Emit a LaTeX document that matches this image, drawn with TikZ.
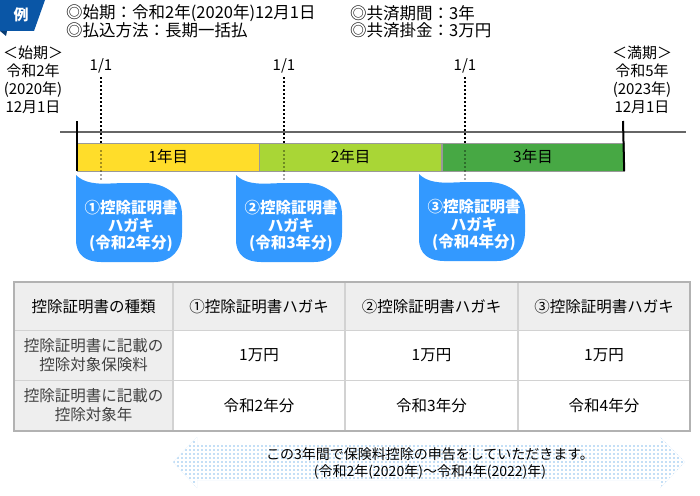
\documentclass[tikz,border=0pt]{standalone}
\usepackage{fontspec}
\setmainfont{Noto Sans CJK JP}
\usepackage{xcolor}
\usepackage{tikz}
\usetikzlibrary{
  positioning,
  calc
}
\definecolor{badgeblue}{HTML}{0A56A6}
\definecolor{dropblue}{HTML}{3399FF}
\definecolor{yrone}{HTML}{FFDD2A}
\definecolor{yrtwo}{HTML}{A9D636}
\definecolor{yrthree}{HTML}{47A844}
\definecolor{tblline}{HTML}{D2D2D2}
\definecolor{tblhead}{HTML}{EEEEEE}
\definecolor{dotblue}{HTML}{C4DFF6}
\newcommand{\fs}[2]{\fontsize{#1}{#2}\selectfont}

\begin{document}
\begin{tikzpicture}[
  x=1pt, y=-1pt,
  hdr/.style={font=\fs{16.5}{17}, inner sep=0pt, anchor=west},
  lbl/.style={font=\fs{15}{18}, inner sep=0pt, align=center},
  bar/.style={draw=gray!80, minimum width=182pt, minimum height=28pt, anchor=west,
    inner sep=0pt, font=\fs{15.5}{18}},
  jan/.style={line width=1.6pt, dash pattern=on 2pt off 2pt},
  droptxt/.style={font=\fs{15.5}{17.5}\bfseries, text=white, align=center, inner sep=0pt},
  cell/.style={draw=tblline, line width=1pt, minimum height=50pt, anchor=north west,
    inner sep=0pt, align=center, font=\fs{15.5}{19}},
  drop/.pic={
    \fill[dropblue] (0,0) -- (0,65) .. controls (0,80) and (10,87) .. (25,87)
      -- (78,87) .. controls (96,87) and (106,74) .. (106,58)
      -- (106,40) .. controls (106,20) and (90,8) .. (68,8)
      -- (50,8) .. controls (32,8) and (12,12) .. (0,0) -- cycle;
  },
]
  \useasboundingbox (0,0) rectangle (700,495);

  % Badge
  \fill[badgeblue] (0,0) -- (45,0) -- (34,31) -- (0,31) -- cycle;
  \fill[badgeblue!70!black] (0,31) -- (7,31) -- (6,36) -- cycle;
  \node[font=\fs{15}{15}\bfseries, text=white, inner sep=0pt] (ex) at (21,15) {例};

  % Conditions
  \node[hdr] (start) at (66,13) {◎始期：令和2年(2020年)12月1日};
  \node[hdr] (pay) at (66,30) {◎払込方法：長期一括払};
  \node[hdr] (term) at (350,13) {◎共済期間：3年};
  \node[hdr] (prem) at (350,30) {◎共済掛金：3万円};

  % Start and end dates
  \node[lbl] (begin) at (33,80) {＜始期＞\\令和2年\\(2020年)\\12月1日};
  \node[lbl] (finish) at (642,80) {＜満期＞\\令和5年\\(2023年)\\12月1日};

  % Time axis
  \coordinate (axl) at (60,132);
  \coordinate (axr) at (686,132);
  \draw[gray!80!black, line width=1.2pt] (axl) -- (axr);

  \node[lbl] (jan1) at (101,66) {1/1};
  \node[lbl] (jan2) at (284,66) {1/1};
  \node[lbl] (jan3) at (465,66) {1/1};
  \foreach \j in {jan1,jan2,jan3}
    \draw[jan] ([yshift=-4pt]\j.south) -- ($(\j.south)+(0,77)$);

  % Years
  \node[bar, fill=yrone] (y1) at (77,157) {1年目};
  \node[bar, fill=yrtwo, right=0pt of y1] (y2) {2年目};
  \node[bar, fill=yrthree, right=0pt of y2] (y3) {3年目};
  \foreach \j in {jan1,jan2,jan3}
    \draw[jan, draw opacity=.35] ($(\j.south)+(0,77)$) -- ($(\j.south)+(0,106)$);
  \draw[line width=2pt] (77,121) -- (y1.south west);
  \draw[line width=2pt] (623,121) -- (y3.south east);

  % Certificate cards
  \pic at (76,175) {drop};
  \pic at (236,175) {drop};
  \pic at (419,174) {drop};
  \node[droptxt] (c1) at (131,226) {①控除証明書\\ハガキ\\(令和2年分)};
  \node[droptxt] (c2) at (291,226) {②控除証明書\\ハガキ\\(令和3年分)};
  \node[droptxt] (c3) at (474,225) {③控除証明書\\ハガキ\\(令和4年分)};

  % Table
  \node[cell, fill=tblhead, minimum width=158pt, minimum height=48pt] (kind) at (14,282) {控除証明書の種類};
  \node[cell, fill=tblhead, minimum width=171pt, minimum height=48pt, right=0pt of kind] (k1) {①控除証明書ハガキ};
  \node[cell, fill=tblhead, minimum width=172pt, minimum height=48pt, right=0pt of k1] (k2) {②控除証明書ハガキ};
  \node[cell, fill=tblhead, minimum width=171pt, minimum height=48pt, right=0pt of k2] (k3) {③控除証明書ハガキ};

  \node[cell, fill=tblhead, text=black!75, minimum width=158pt] (amt) at (14,330) {控除証明書に記載の\\控除対象保険料};
  \node[cell, minimum width=171pt, right=0pt of amt] (a1) {1万円};
  \node[cell, minimum width=172pt, right=0pt of a1] (a2) {1万円};
  \node[cell, minimum width=171pt, right=0pt of a2] (a3) {1万円};

  \node[cell, fill=tblhead, text=black!75, minimum width=158pt] (yr) at (14,380) {控除証明書に記載の\\控除対象年};
  \node[cell, minimum width=171pt, right=0pt of yr] (r1) {令和2年分};
  \node[cell, minimum width=172pt, right=0pt of r1] (r2) {令和3年分};
  \node[cell, minimum width=171pt, right=0pt of r2] (r3) {令和4年分};
  \draw[black!30, line width=1.5pt] (kind.north west) rectangle (r3.south east);

  % Period arrow
  \begin{scope}
    \clip (173,462) -- (197,437) -- (197,445) -- (660,445) -- (660,437) -- (685,462)
      -- (660,488) -- (660,480) -- (197,480) -- (197,488) -- cycle;
    \fill[dotblue] (170,435) rectangle (690,490);
    \draw[white, line width=1.2pt, step=4pt] (170,435) grid (690,490);
  \end{scope}
  \node[font=\fs{14}{17}, align=center, inner sep=0pt] (note) at (430,463)
    {この3年間で保険料控除の申告をしていただきます。\\(令和2年(2020年)～令和4年(2022)年)};
\end{tikzpicture}
\end{document}
